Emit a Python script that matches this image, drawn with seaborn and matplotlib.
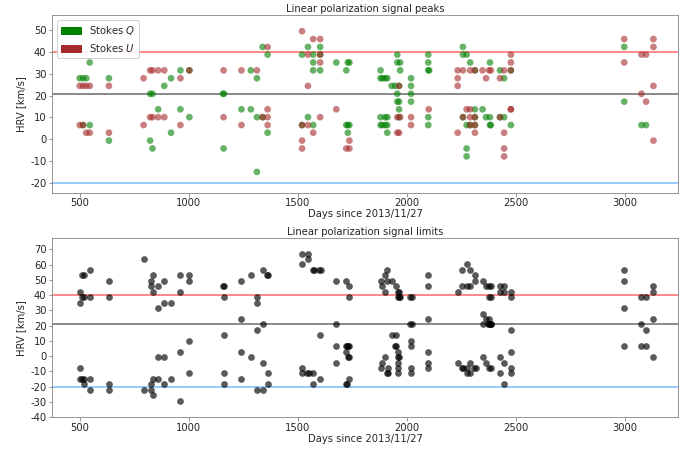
import pandas as pd
import matplotlib

matplotlib.use("Agg")

import matplotlib.pyplot as plt
import seaborn as sns
from matplotlib.patches import Patch

# Stokes Q peaks (days since 2013/11/27, HRV km/s)
q_days = [500, 515, 515, 530, 546, 546, 634, 634, 823, 823, 834, 834, 860, 888, 919, 919,
          962, 962, 1003, 1003, 1157, 1162, 1160, 1242, 1285, 1285, 1313, 1313, 1313,
          1339, 1339, 1362, 1362, 1520, 1520, 1547, 1547, 1571, 1571, 1571, 1571,
          1603, 1603, 1603, 1677, 1723, 1723, 1730, 1730, 1730, 1737, 1737,
          1880, 1880, 1880, 1880, 1888, 1888, 1901, 1901, 1901, 1911, 1911, 1911, 1911,
          1931, 1947, 1957, 1957, 1957, 1957, 1965, 1965, 1965, 1965, 1970, 1970,
          2020, 2020, 2020, 2020, 2099, 2099, 2099, 2099, 2099, 2103,
          2258, 2258, 2258, 2275, 2275, 2275, 2275, 2291, 2291, 2313, 2313, 2313, 2313,
          2348, 2364, 2382, 2382, 2382, 2386, 2428, 2428, 2447, 2447, 2478, 2478,
          2998, 2998, 3077, 3098]
q_hrv = [27.9, 27.9, 6.5, 27.9, 35.1, 6.5, 27.9, -0.6, 20.8, -0.6, 20.8, -4.2, 13.7, 24.4, 27.9, 3.0,
         31.5, 13.7, 31.5, 10.1, 20.8, 20.8, -4.2, 13.7, 31.5, 13.7, 27.9, 10.1, -14.9,
         42.2, 10.1, 38.7, 3.0, 38.7, 6.5, 42.2, 10.1, 38.7, 35.1, 31.5, 6.5,
         42.2, 38.7, 31.5, 35.1, 31.5, 6.5, 35.1, 6.5, 3.0, 35.1, 6.5,
         31.5, 27.9, 10.1, 6.5, 27.9, 6.5, 27.9, 10.1, 6.5, 27.9, 10.1, 6.5, 3.0,
         24.4, 24.4, 38.7, 35.1, 20.8, 17.2, 24.4, 17.2, 13.7, 10.1, 35.1, 31.5,
         27.9, 24.4, 20.8, 17.2, 38.7, 35.1, 31.5, 10.1, 6.5, 31.5,
         42.2, 38.7, 10.1, 38.7, 6.5, -4.2, -7.8, 35.1, 6.5, 31.5, 13.7, 10.1, 6.5,
         13.7, 10.1, 35.1, 10.1, 6.5, 6.5, 31.5, 10.1, 27.9, 10.1, 31.5, 6.5,
         42.2, 17.2, 6.5, 6.5]

# Stokes U peaks
u_days = [500, 500, 515, 515, 530, 530, 546, 546, 634, 634, 793, 793, 823, 823, 834, 834,
          860, 860, 888, 888, 962, 962, 1003, 1160, 1160, 1242, 1242, 1313, 1339,
          1362, 1362, 1362, 1362, 1520, 1520, 1520, 1520, 1547, 1547, 1547, 1571, 1571,
          1603, 1603, 1603, 1603, 1677, 1723, 1737, 1737, 1957, 1957, 1965, 1965, 1970,
          2020, 2020, 2101, 2234, 2234, 2234, 2234, 2258, 2258, 2275,
          2291, 2291, 2291, 2291, 2313, 2313, 2313, 2313, 2348, 2364, 2378, 2386,
          2428, 2428, 2447, 2447, 2447, 2447, 2478, 2478, 2478, 2478, 2478,
          2998, 2998, 3077, 3077, 3098, 3098, 3132, 3132, 3132, 3132]
u_hrv = [24.4, 6.5, 24.4, 6.5, 24.4, 3.0, 24.4, 3.0, 24.4, 3.0, 27.9, 6.5, 31.5, 10.1, 31.5, 10.1,
         31.5, 10.1, 31.5, 10.1, 27.9, 6.5, 31.5, 31.5, 10.1, 31.5, 6.5, 31.5, 10.1,
         42.2, 13.7, 10.1, 6.5, 49.4, 6.5, -0.6, -4.2, 38.7, 24.4, 6.5, 45.8, 3.0,
         45.8, 38.7, 35.1, 10.1, 13.7, -4.2, -0.6, -4.2, 10.1, 3.0, 24.4, 3.0, 10.1,
         10.1, 6.5, 13.7, 31.5, 27.9, 24.4, 3.0, 31.5, 10.1, 13.7,
         31.5, 13.7, 10.1, 6.5, 31.5, 10.1, 6.5, 3.0, 31.5, 27.9, 31.5, 31.5,
         27.9, 10.1, 31.5, 3.0, -4.2, -7.8, 38.7, 35.1, 31.5, 13.7, 13.7,
         45.8, 35.1, 38.7, 20.8, 38.7, 17.2, 45.8, 42.2, 24.4, -0.6]

# signal limits
lim_days = [500, 500, 500, 500, 511, 511, 511, 518, 518, 518, 518, 546, 546, 546, 546,
            634, 634, 634, 634, 793, 793, 826, 826, 826, 826, 834, 834, 834, 834,
            860, 860, 860, 860, 888, 888, 888, 888, 919, 919, 962, 962, 962, 962,
            1003, 1003, 1003, 1003, 1157, 1162, 1160, 1160, 1160, 1160,
            1242, 1242, 1242, 1242, 1285, 1285, 1313, 1313, 1313, 1313,
            1339, 1339, 1339, 1339, 1358, 1365, 1362, 1362, 1520, 1520, 1520, 1520,
            1547, 1547, 1544, 1550, 1568, 1574, 1571, 1571, 1600, 1606, 1603, 1603,
            1677, 1677, 1677, 1677, 1723, 1720, 1726, 1723, 1720, 1726,
            1734, 1734, 1731, 1737, 1731, 1737, 1734,
            1880, 1880, 1888, 1888, 1901, 1901, 1901, 1911, 1911, 1908, 1914, 1914,
            1934, 1934, 1949, 1949, 1946, 1952,
            1959, 1965, 1959, 1965, 1962, 1959, 1965, 1962, 1962, 1962, 1970,
            2017, 2023, 2017, 2023, 2020, 2020, 2020, 2020,
            2099, 2099, 2099, 2099, 2099, 2099, 2234, 2234, 2255, 2255, 2252, 2258,
            2275, 2275, 2275, 2275, 2291, 2291, 2291, 2291, 2313, 2313, 2310, 2316,
            2348, 2348, 2348, 2348, 2364, 2364, 2364,
            2378, 2378, 2378, 2378, 2375, 2378, 2386, 2386, 2386, 2386, 2383, 2386,
            2428, 2428, 2428, 2428, 2447, 2447, 2447, 2447,
            2478, 2478, 2478, 2478, 2478, 2478, 2998, 2998, 2998, 2998,
            3077, 3077, 3077, 3098, 3098, 3098, 3132, 3132, 3132, 3132]
lim_hrv = [42.2, 35.1, -7.8, -14.9, 52.9, 38.7, -14.9, 52.9, 38.7, -14.9, -18.5, 56.5, 38.7, -14.9, -22.0,
           49.4, 38.7, -18.5, -22.0, 63.6, -22.0, 49.4, 45.8, -18.5, -22.0, 52.9, 42.2, -14.9, -25.6,
           45.8, 31.5, -0.6, -14.9, 49.4, 35.1, -0.6, -18.5, 35.1, -14.9, 52.9, 42.2, 3.0, -29.2,
           52.9, 49.4, 10.1, -11.3, 45.8, 45.8, 38.7, 13.7, -11.3, -18.5,
           49.4, 24.4, 3.0, -14.9, 52.9, -0.6, 38.7, 35.1, 17.2, -22.0,
           56.5, 20.8, -4.2, -22.0, 52.9, 52.9, -11.3, -18.5, 67.2, 60.1, -7.8, -11.3,
           67.2, 63.6, -11.3, -11.3, 56.5, 56.5, -11.3, -18.5, 56.5, 56.5, 13.7, -14.9,
           49.4, 20.8, 6.5, -4.2, 49.4, 6.5, 6.5, 3.0, -18.5, -18.5,
           45.8, 38.7, 6.5, 6.5, -0.6, -0.6, -14.9,
           49.4, -7.8, 45.8, -4.2, 52.9, 42.2, -0.6, 56.5, 49.4, -11.3, -11.3, -7.8,
           49.4, 13.7, 45.8, 13.7, 6.5, 6.5,
           42.2, 42.2, 38.7, 38.7, 3.0, -0.6, -0.6, -4.2, -7.8, -11.3, 38.7,
           38.7, 38.7, 20.8, 20.8, 10.1, 6.5, -7.8, -11.3,
           52.9, 45.8, 24.4, 3.0, -4.2, -7.8, 42.2, -4.2, 56.5, 45.8, -7.8, -7.8,
           60.1, 45.8, -11.3, -7.8, 56.5, 45.8, -4.2, -11.3, 52.9, 49.4, -7.8, -7.8,
           49.4, 27.9, 20.8, -0.6, 45.8, 24.4, -4.2,
           45.8, 38.7, 24.4, 20.8, 20.8, -7.8, 45.8, 38.7, 20.8, 20.8, 20.8, -7.8,
           45.8, 42.2, -0.6, -11.3, 45.8, 42.2, -4.2, -18.5,
           42.2, 38.7, 17.2, 3.0, -7.8, -11.3, 56.5, 49.4, 31.5, 6.5,
           38.7, 20.8, 6.5, 38.7, 17.2, 6.5, 45.8, 42.2, 24.4, -0.6]

# reference levels
upper_level = 40
mid_level = 20.8
lower_level = -20

sns.set_style("white")
plt.rcParams["font.family"] = ["DejaVu Sans"]
plt.rcParams["font.size"] = 10
plt.rcParams["axes.unicode_minus"] = False
plt.rcParams["axes.edgecolor"] = "#7f7f7f"

peaks = pd.concat([
    pd.DataFrame({"day": q_days, "hrv": q_hrv, "stokes": "Q"}),
    pd.DataFrame({"day": u_days, "hrv": u_hrv, "stokes": "U"}),
])
limits = pd.DataFrame({"day": lim_days, "hrv": lim_hrv})

fig = plt.figure(figsize=(691 / 72, 450 / 72), dpi=72)
ax1 = fig.add_axes([0.0753, 0.5718, 0.906, 0.3949])
ax2 = fig.add_axes([0.0753, 0.0727, 0.906, 0.3978])

for ax in (ax1, ax2):
    ax.axhline(upper_level, color="red", alpha=0.6, lw=1.5, zorder=1)
    ax.axhline(mid_level, color="black", alpha=0.6, lw=1.5, zorder=1)
    ax.axhline(lower_level, color="dodgerblue", alpha=0.6, lw=1.5, zorder=1)

sns.scatterplot(data=peaks, x="day", y="hrv", hue="stokes",
                palette={"Q": "green", "U": "brown"}, alpha=0.6, s=45,
                linewidth=0, legend=False, ax=ax1, zorder=2)
sns.scatterplot(data=limits, x="day", y="hrv", color="black", alpha=0.65, s=45,
                linewidth=0, legend=False, ax=ax2, zorder=2)

ax1.legend(handles=[Patch(color="green", label="Stokes $Q$"),
                    Patch(color="brown", label="Stokes $U$")],
           loc="upper left", fontsize=10, framealpha=0.9)

ax1.set_xlim(373, 3245)
ax2.set_xlim(373, 3245)
ax1.set_ylim(-24.4, 56.8)
ax2.set_ylim(-40, 77.2)
ax1.set_yticks(range(-20, 51, 10))
ax2.set_yticks(range(-40, 71, 10))
for ax in (ax1, ax2):
    ax.set_xticks(range(500, 3001, 500))
    ax.set_xlabel("Days since 2013/11/27", labelpad=1)
    ax.set_ylabel("HRV [km/s]")
    ax.tick_params(left=True, bottom=True, length=3.5, color="#7f7f7f", pad=2)

ax1.set_title("Linear polarization signal peaks", fontsize=10, pad=3)
ax2.set_title("Linear polarization signal limits", fontsize=10, pad=3)

fig.savefig("out.png", dpi=72)
